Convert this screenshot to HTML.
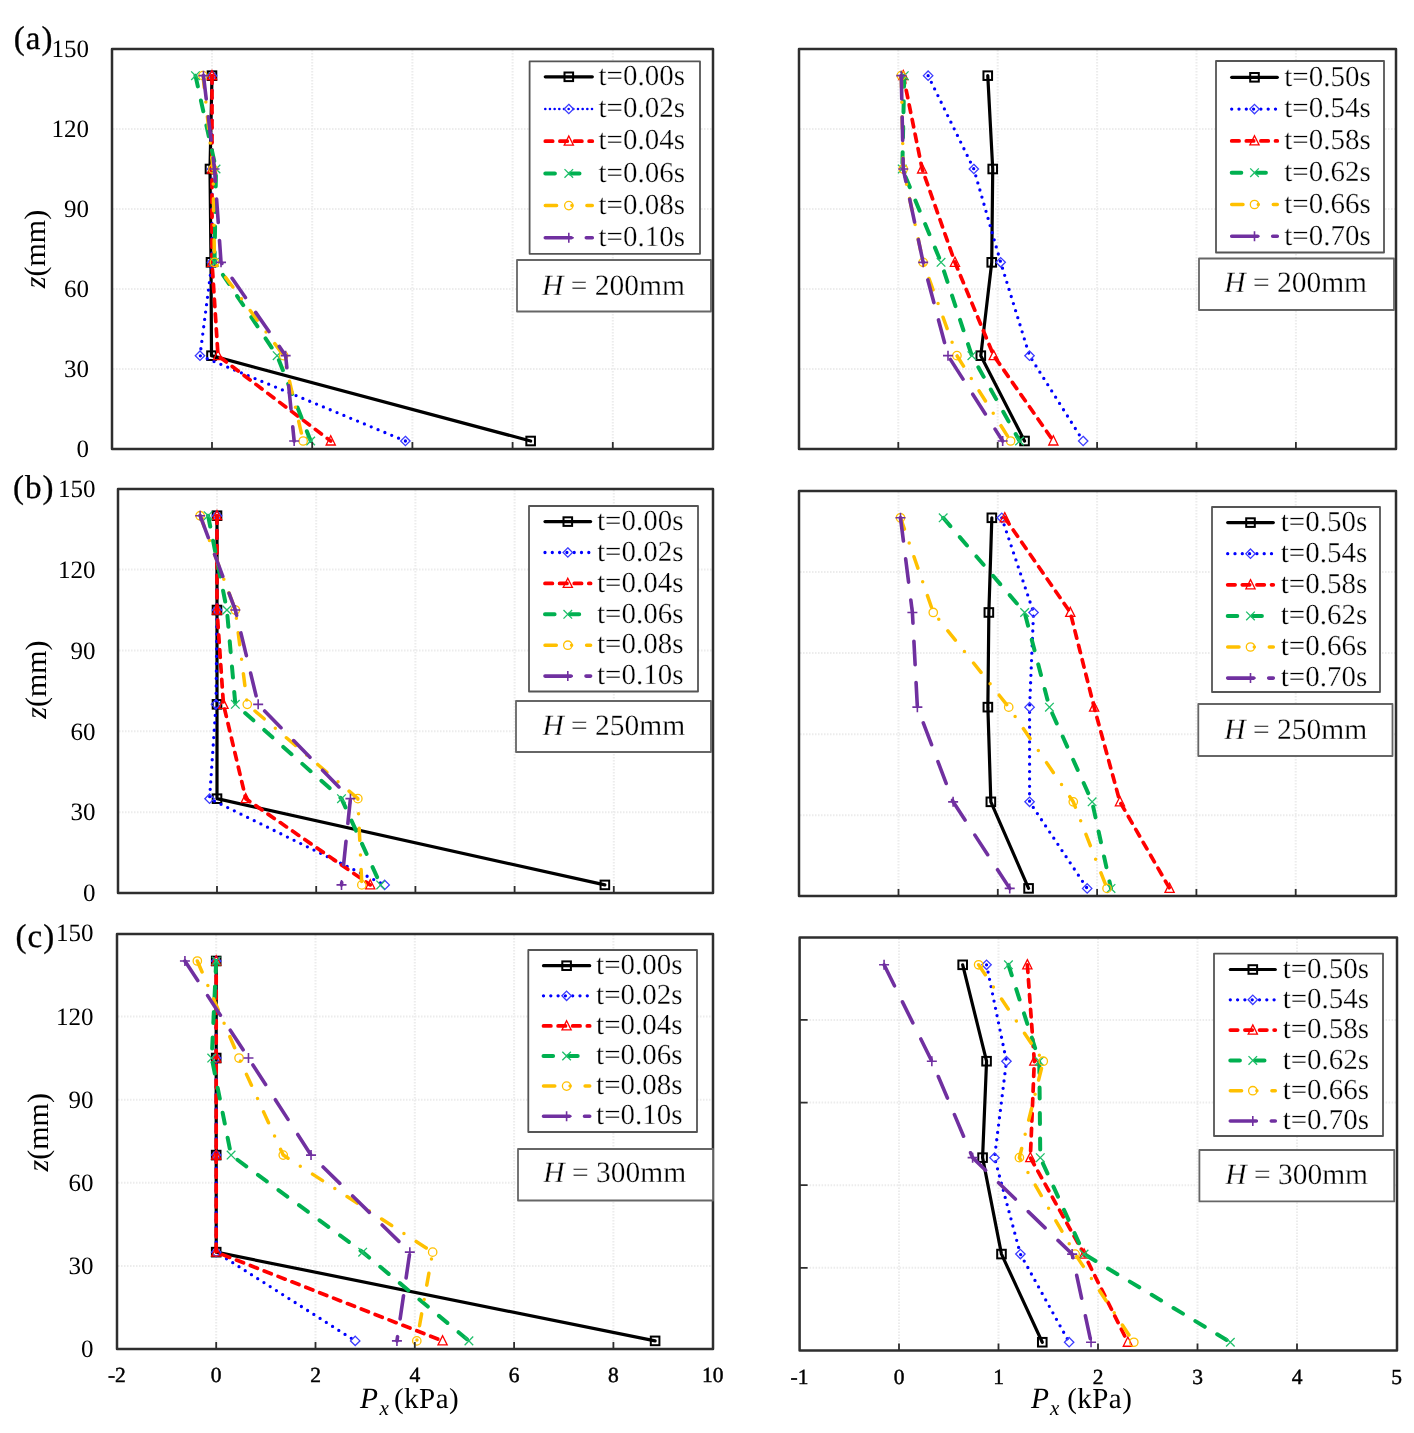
<!DOCTYPE html>
<html><head><meta charset="utf-8"><style>
html,body{margin:0;padding:0;background:#fff;}
svg{display:block;}
#wrap{will-change:transform;width:1414px;height:1433px;}
text{font-family:"Liberation Serif",serif;fill:#000;text-rendering:geometricPrecision;stroke:#fff;stroke-width:0.3px;paint-order:fill stroke;}
.yt{font-size:25px;text-anchor:end;stroke:none;}
.xt{font-size:21.5px;text-anchor:middle;stroke:#000;stroke-width:0.45px;}
.lg{font-size:29px;}
.hb{font-size:29.5px;}
.zl{font-size:30px;stroke:none;}
.ax{font-size:29px;stroke:none;}
.tag{font-size:33px;font-weight:normal;letter-spacing:1px;stroke:#000;stroke-width:0.3px;}
</style></head><body>
<div id="wrap"><svg width="1414" height="1433" viewBox="0 0 1414 1433">
<rect width="1414" height="1433" fill="#fff"/>
<path d="M212 50V448M312.2 50V448M412.4 50V448M512.6 50V448M612.8 50V448M113 369H712M113 289H712M113 209H712M113 129H712" stroke="#ececec" stroke-width="2" fill="none" stroke-dasharray="1.5 1.5"/>
<path d="M212 75.66 L210 169 L211 262.33 L211.5 355.67 L530.64 441" fill="none" stroke="#000000" stroke-width="3.2" stroke-linecap="round" stroke-linejoin="round"/>
<rect x="207.7" y="71.36" width="8.6" height="8.6" fill="none" stroke="#000" stroke-width="2"/>
<rect x="205.7" y="164.7" width="8.6" height="8.6" fill="none" stroke="#000" stroke-width="2"/>
<rect x="206.7" y="258.03" width="8.6" height="8.6" fill="none" stroke="#000" stroke-width="2"/>
<rect x="207.2" y="351.37" width="8.6" height="8.6" fill="none" stroke="#000" stroke-width="2"/>
<rect x="526.34" y="436.7" width="8.6" height="8.6" fill="none" stroke="#000" stroke-width="2"/>
<path d="M212 75.66 L212 169 L212 262.33 L199.98 355.67 L405.39 441" fill="none" stroke="#0000FF" stroke-width="3.3" stroke-linecap="round" stroke-linejoin="round" stroke-dasharray="0 7.4"/>
<polygon points="212,70.96 216.7,75.66 212,80.36 207.3,75.66" fill="none" stroke="#3b3bff" stroke-width="1.3"/>
<polygon points="212,164.3 216.7,169 212,173.7 207.3,169" fill="none" stroke="#3b3bff" stroke-width="1.3"/>
<polygon points="212,257.63 216.7,262.33 212,267.03 207.3,262.33" fill="none" stroke="#3b3bff" stroke-width="1.3"/>
<polygon points="199.98,350.97 204.68,355.67 199.98,360.37 195.28,355.67" fill="none" stroke="#3b3bff" stroke-width="1.3"/>
<polygon points="405.39,436.3 410.09,441 405.39,445.7 400.69,441" fill="none" stroke="#3b3bff" stroke-width="1.3"/>
<path d="M212 75.66 L212 169 L212 262.33 L218.01 355.67 L330.74 441" fill="none" stroke="#FF0000" stroke-width="3.7" stroke-linecap="round" stroke-linejoin="round" stroke-dasharray="7.6 7.3"/>
<polygon points="212,70.46 216.6,79.66 207.4,79.66" fill="none" stroke="#FF0000" stroke-width="1.3"/>
<polygon points="212,163.8 216.6,173 207.4,173" fill="none" stroke="#FF0000" stroke-width="1.3"/>
<polygon points="212,257.13 216.6,266.33 207.4,266.33" fill="none" stroke="#FF0000" stroke-width="1.3"/>
<polygon points="218.01,350.47 222.61,359.67 213.41,359.67" fill="none" stroke="#FF0000" stroke-width="1.3"/>
<polygon points="330.74,435.8 335.34,445 326.14,445" fill="none" stroke="#FF0000" stroke-width="1.3"/>
<path d="M195.47 75.66 L216.01 169 L214.5 262.33 L277.13 355.67 L310.7 441" fill="none" stroke="#00B050" stroke-width="4.0" stroke-linecap="round" stroke-linejoin="round" stroke-dasharray="11 14.5"/>
<path d="M191.17 71.36L199.77 79.96M191.17 79.96L199.77 71.36" stroke="#1fbf6a" stroke-width="1.3" fill="none"/>
<path d="M211.71 164.7L220.31 173.3M211.71 173.3L220.31 164.7" stroke="#1fbf6a" stroke-width="1.3" fill="none"/>
<path d="M210.2 258.03L218.81 266.63M210.2 266.63L218.81 258.03" stroke="#1fbf6a" stroke-width="1.3" fill="none"/>
<path d="M272.83 351.37L281.43 359.97M272.83 359.97L281.43 351.37" stroke="#1fbf6a" stroke-width="1.3" fill="none"/>
<path d="M306.4 436.7L315 445.3M306.4 445.3L315 436.7" stroke="#1fbf6a" stroke-width="1.3" fill="none"/>
<path d="M202.98 75.66 L213 169 L214.5 262.33 L283.64 355.67 L303.18 441" fill="none" stroke="#FFC000" stroke-width="3.5" stroke-linecap="round" stroke-linejoin="round" stroke-dasharray="12 14.6 0 14.6"/>
<circle cx="202.98" cy="75.66" r="4.2" fill="none" stroke="#FFC000" stroke-width="1.3"/>
<circle cx="213" cy="169" r="4.2" fill="none" stroke="#FFC000" stroke-width="1.3"/>
<circle cx="214.5" cy="262.33" r="4.2" fill="none" stroke="#FFC000" stroke-width="1.3"/>
<circle cx="283.64" cy="355.67" r="4.2" fill="none" stroke="#FFC000" stroke-width="1.3"/>
<circle cx="303.18" cy="441" r="4.2" fill="none" stroke="#FFC000" stroke-width="1.3"/>
<path d="M203.48 75.66 L214.5 169 L221.02 262.33 L285.65 355.67 L294.16 441" fill="none" stroke="#7030A0" stroke-width="3.6" stroke-linecap="round" stroke-linejoin="round" stroke-dasharray="23.4 18"/>
<path d="M198.48 75.66H208.48M203.48 70.66V80.66" stroke="#7030A0" stroke-width="1.6" fill="none"/>
<path d="M209.5 169H219.5M214.5 164V174" stroke="#7030A0" stroke-width="1.6" fill="none"/>
<path d="M216.02 262.33H226.02M221.02 257.33V267.33" stroke="#7030A0" stroke-width="1.6" fill="none"/>
<path d="M280.65 355.67H290.65M285.65 350.67V360.67" stroke="#7030A0" stroke-width="1.6" fill="none"/>
<path d="M289.16 441H299.16M294.16 436V446" stroke="#7030A0" stroke-width="1.6" fill="none"/>
<path d="M212 449V442M312.2 449V442M412.4 449V442M512.6 449V442M612.8 449V442" stroke="#2e2e2e" stroke-width="1.8" fill="none"/>
<rect x="112" y="49" width="601" height="400" fill="none" stroke="#2e2e2e" stroke-width="2.5" stroke-linejoin="round"/>
<rect x="529.6" y="61.4" width="170.4" height="192.4" fill="#fff" stroke="#555" stroke-width="1.8" stroke-linejoin="round"/>
<path d="M545.3 76.8H592.3" fill="none" stroke="#000000" stroke-width="3.2" stroke-linecap="round" stroke-linejoin="round"/>
<rect x="564.5" y="72.5" width="8.6" height="8.6" fill="none" stroke="#000" stroke-width="2"/>
<text x="598.5" y="85" class="lg">t=0.00s</text>
<path d="M545.3 109H592.3" fill="none" stroke="#0000FF" stroke-width="2.6" stroke-linecap="round" stroke-linejoin="round" stroke-dasharray="0 4.67"/>
<polygon points="568.8,104.3 573.5,109 568.8,113.7 564.1,109" fill="none" stroke="#3b3bff" stroke-width="1.3"/>
<text x="598.5" y="117.2" class="lg">t=0.02s</text>
<path d="M545.3 141.2H592.3" fill="none" stroke="#FF0000" stroke-width="3.7" stroke-linecap="round" stroke-linejoin="round" stroke-dasharray="7.4 7.2"/>
<polygon points="568.8,136 573.4,145.2 564.2,145.2" fill="none" stroke="#FF0000" stroke-width="1.3"/>
<text x="598.5" y="149.4" class="lg">t=0.04s</text>
<path d="M545.3 173.4H592.3" fill="none" stroke="#00B050" stroke-width="4.0" stroke-linecap="round" stroke-linejoin="round" stroke-dasharray="9.6 15"/>
<path d="M564.5 169.1L573.1 177.7M564.5 177.7L573.1 169.1" stroke="#1fbf6a" stroke-width="1.3" fill="none"/>
<text x="598.5" y="181.6" class="lg">t=0.06s</text>
<path d="M545.3 205.6H592.3" fill="none" stroke="#FFC000" stroke-width="3.5" stroke-linecap="round" stroke-linejoin="round" stroke-dasharray="11.3 15.3 0 15"/>
<circle cx="568.8" cy="205.6" r="4.2" fill="none" stroke="#FFC000" stroke-width="1.3"/>
<text x="598.5" y="213.8" class="lg">t=0.08s</text>
<path d="M545.3 237.8H592.3" fill="none" stroke="#7030A0" stroke-width="3.6" stroke-linecap="round" stroke-linejoin="round" stroke-dasharray="26 15"/>
<path d="M563.8 237.8H573.8M568.8 232.8V242.8" stroke="#7030A0" stroke-width="1.6" fill="none"/>
<text x="598.5" y="246" class="lg">t=0.10s</text>
<rect x="517" y="260" width="194" height="51.5" fill="#fff" stroke="#666" stroke-width="1.8" stroke-linejoin="round"/>
<text x="542" y="294.8" class="hb"><tspan font-style="italic">H</tspan> = 200mm</text>
<path d="M898.3 50V448M997.7 50V448M1097.1 50V448M1196.5 50V448M1295.9 50V448M800 369H1395M800 289H1395M800 209H1395M800 129H1395" stroke="#ececec" stroke-width="2" fill="none" stroke-dasharray="1.5 1.5"/>
<path d="M987.76 75.66 L992.73 169 L991.74 262.33 L980.8 355.67 L1024.54 441" fill="none" stroke="#000000" stroke-width="3.2" stroke-linecap="round" stroke-linejoin="round"/>
<rect x="983.46" y="71.36" width="8.6" height="8.6" fill="none" stroke="#000" stroke-width="2"/>
<rect x="988.43" y="164.7" width="8.6" height="8.6" fill="none" stroke="#000" stroke-width="2"/>
<rect x="987.44" y="258.03" width="8.6" height="8.6" fill="none" stroke="#000" stroke-width="2"/>
<rect x="976.5" y="351.37" width="8.6" height="8.6" fill="none" stroke="#000" stroke-width="2"/>
<rect x="1020.24" y="436.7" width="8.6" height="8.6" fill="none" stroke="#000" stroke-width="2"/>
<path d="M928.12 75.66 L973.84 169 L1000.68 262.33 L1029.51 355.67 L1083.18 441" fill="none" stroke="#0000FF" stroke-width="3.3" stroke-linecap="round" stroke-linejoin="round" stroke-dasharray="0 7.4"/>
<polygon points="928.12,70.96 932.82,75.66 928.12,80.36 923.42,75.66" fill="none" stroke="#3b3bff" stroke-width="1.3"/>
<polygon points="973.84,164.3 978.54,169 973.84,173.7 969.14,169" fill="none" stroke="#3b3bff" stroke-width="1.3"/>
<polygon points="1000.68,257.63 1005.38,262.33 1000.68,267.03 995.98,262.33" fill="none" stroke="#3b3bff" stroke-width="1.3"/>
<polygon points="1029.51,350.97 1034.21,355.67 1029.51,360.37 1024.81,355.67" fill="none" stroke="#3b3bff" stroke-width="1.3"/>
<polygon points="1083.18,436.3 1087.88,441 1083.18,445.7 1078.48,441" fill="none" stroke="#3b3bff" stroke-width="1.3"/>
<path d="M903.27 75.66 L922.16 169 L954.96 262.33 L993.72 355.67 L1053.36 441" fill="none" stroke="#FF0000" stroke-width="3.7" stroke-linecap="round" stroke-linejoin="round" stroke-dasharray="7.6 7.3"/>
<polygon points="903.27,70.46 907.87,79.66 898.67,79.66" fill="none" stroke="#FF0000" stroke-width="1.3"/>
<polygon points="922.16,163.8 926.76,173 917.56,173" fill="none" stroke="#FF0000" stroke-width="1.3"/>
<polygon points="954.96,257.13 959.56,266.33 950.36,266.33" fill="none" stroke="#FF0000" stroke-width="1.3"/>
<polygon points="993.72,350.47 998.32,359.67 989.12,359.67" fill="none" stroke="#FF0000" stroke-width="1.3"/>
<polygon points="1053.36,435.8 1057.96,445 1048.76,445" fill="none" stroke="#FF0000" stroke-width="1.3"/>
<path d="M904.26 75.66 L902.28 169 L941.04 262.33 L971.86 355.67 L1019.57 441" fill="none" stroke="#00B050" stroke-width="4.0" stroke-linecap="round" stroke-linejoin="round" stroke-dasharray="11 14.5"/>
<path d="M899.96 71.36L908.56 79.96M899.96 79.96L908.56 71.36" stroke="#1fbf6a" stroke-width="1.3" fill="none"/>
<path d="M897.98 164.7L906.58 173.3M897.98 173.3L906.58 164.7" stroke="#1fbf6a" stroke-width="1.3" fill="none"/>
<path d="M936.74 258.03L945.34 266.63M936.74 266.63L945.34 258.03" stroke="#1fbf6a" stroke-width="1.3" fill="none"/>
<path d="M967.56 351.37L976.16 359.97M967.56 359.97L976.16 351.37" stroke="#1fbf6a" stroke-width="1.3" fill="none"/>
<path d="M1015.27 436.7L1023.87 445.3M1015.27 445.3L1023.87 436.7" stroke="#1fbf6a" stroke-width="1.3" fill="none"/>
<path d="M901.28 75.66 L903.27 169 L923.15 262.33 L956.95 355.67 L1010.62 441" fill="none" stroke="#FFC000" stroke-width="3.5" stroke-linecap="round" stroke-linejoin="round" stroke-dasharray="12 14.6 0 14.6"/>
<circle cx="901.28" cy="75.66" r="4.2" fill="none" stroke="#FFC000" stroke-width="1.3"/>
<circle cx="903.27" cy="169" r="4.2" fill="none" stroke="#FFC000" stroke-width="1.3"/>
<circle cx="923.15" cy="262.33" r="4.2" fill="none" stroke="#FFC000" stroke-width="1.3"/>
<circle cx="956.95" cy="355.67" r="4.2" fill="none" stroke="#FFC000" stroke-width="1.3"/>
<circle cx="1010.62" cy="441" r="4.2" fill="none" stroke="#FFC000" stroke-width="1.3"/>
<path d="M901.28 75.66 L903.27 169 L923.15 262.33 L948 355.67 L1002.67 441" fill="none" stroke="#7030A0" stroke-width="3.6" stroke-linecap="round" stroke-linejoin="round" stroke-dasharray="23.4 18"/>
<path d="M896.28 75.66H906.28M901.28 70.66V80.66" stroke="#7030A0" stroke-width="1.6" fill="none"/>
<path d="M898.27 169H908.27M903.27 164V174" stroke="#7030A0" stroke-width="1.6" fill="none"/>
<path d="M918.15 262.33H928.15M923.15 257.33V267.33" stroke="#7030A0" stroke-width="1.6" fill="none"/>
<path d="M943 355.67H953M948 350.67V360.67" stroke="#7030A0" stroke-width="1.6" fill="none"/>
<path d="M997.67 441H1007.67M1002.67 436V446" stroke="#7030A0" stroke-width="1.6" fill="none"/>
<path d="M898.3 449V442M997.7 449V442M1097.1 449V442M1196.5 449V442M1295.9 449V442" stroke="#2e2e2e" stroke-width="1.8" fill="none"/>
<rect x="799" y="49" width="597" height="400" fill="none" stroke="#2e2e2e" stroke-width="2.5" stroke-linejoin="round"/>
<rect x="1216" y="61" width="168" height="191.5" fill="#fff" stroke="#555" stroke-width="1.8" stroke-linejoin="round"/>
<path d="M1231.7 77.3H1277.3" fill="none" stroke="#000000" stroke-width="3.2" stroke-linecap="round" stroke-linejoin="round"/>
<rect x="1250.2" y="73" width="8.6" height="8.6" fill="none" stroke="#000" stroke-width="2"/>
<text x="1284.3" y="85.5" class="lg">t=0.50s</text>
<path d="M1231.7 109.1H1277.3" fill="none" stroke="#0000FF" stroke-width="3.3" stroke-linecap="round" stroke-linejoin="round" stroke-dasharray="0 7.3"/>
<polygon points="1254.5,104.4 1259.2,109.1 1254.5,113.8 1249.8,109.1" fill="none" stroke="#3b3bff" stroke-width="1.3"/>
<text x="1284.3" y="117.3" class="lg">t=0.54s</text>
<path d="M1231.7 140.9H1277.3" fill="none" stroke="#FF0000" stroke-width="3.7" stroke-linecap="round" stroke-linejoin="round" stroke-dasharray="7.4 7.2"/>
<polygon points="1254.5,135.7 1259.1,144.9 1249.9,144.9" fill="none" stroke="#FF0000" stroke-width="1.3"/>
<text x="1284.3" y="149.1" class="lg">t=0.58s</text>
<path d="M1231.7 172.7H1277.3" fill="none" stroke="#00B050" stroke-width="4.0" stroke-linecap="round" stroke-linejoin="round" stroke-dasharray="9.6 15"/>
<path d="M1250.2 168.4L1258.8 177M1250.2 177L1258.8 168.4" stroke="#1fbf6a" stroke-width="1.3" fill="none"/>
<text x="1284.3" y="180.9" class="lg">t=0.62s</text>
<path d="M1231.7 204.5H1277.3" fill="none" stroke="#FFC000" stroke-width="3.5" stroke-linecap="round" stroke-linejoin="round" stroke-dasharray="11.3 15.3 0 15"/>
<circle cx="1254.5" cy="204.5" r="4.2" fill="none" stroke="#FFC000" stroke-width="1.3"/>
<text x="1284.3" y="212.7" class="lg">t=0.66s</text>
<path d="M1231.7 236.3H1277.3" fill="none" stroke="#7030A0" stroke-width="3.6" stroke-linecap="round" stroke-linejoin="round" stroke-dasharray="26 15"/>
<path d="M1249.5 236.3H1259.5M1254.5 231.3V241.3" stroke="#7030A0" stroke-width="1.6" fill="none"/>
<text x="1284.3" y="244.5" class="lg">t=0.70s</text>
<rect x="1199" y="258.5" width="195" height="51.5" fill="#fff" stroke="#666" stroke-width="1.8" stroke-linejoin="round"/>
<text x="1224.2" y="291.6" class="hb"><tspan font-style="italic">H</tspan> = 200mm</text>
<path d="M217 490V892M316.2 490V892M415.4 490V892M514.6 490V892M613.8 490V892M119 812.15H712M119 731.3H712M119 650.45H712M119 569.6H712" stroke="#ececec" stroke-width="2" fill="none" stroke-dasharray="1.5 1.5"/>
<path d="M217 515.7 L217 610.03 L217 704.35 L217 798.67 L604.87 884.91" fill="none" stroke="#000000" stroke-width="3.2" stroke-linecap="round" stroke-linejoin="round"/>
<rect x="212.7" y="511.4" width="8.6" height="8.6" fill="none" stroke="#000" stroke-width="2"/>
<rect x="212.7" y="605.73" width="8.6" height="8.6" fill="none" stroke="#000" stroke-width="2"/>
<rect x="212.7" y="700.05" width="8.6" height="8.6" fill="none" stroke="#000" stroke-width="2"/>
<rect x="212.7" y="794.38" width="8.6" height="8.6" fill="none" stroke="#000" stroke-width="2"/>
<rect x="600.57" y="880.62" width="8.6" height="8.6" fill="none" stroke="#000" stroke-width="2"/>
<path d="M217 515.7 L217 610.03 L216.01 704.35 L209.56 798.67 L384.65 884.91" fill="none" stroke="#0000FF" stroke-width="3.3" stroke-linecap="round" stroke-linejoin="round" stroke-dasharray="0 7.4"/>
<polygon points="217,511 221.7,515.7 217,520.4 212.3,515.7" fill="none" stroke="#3b3bff" stroke-width="1.3"/>
<polygon points="217,605.33 221.7,610.03 217,614.73 212.3,610.03" fill="none" stroke="#3b3bff" stroke-width="1.3"/>
<polygon points="216.01,699.65 220.71,704.35 216.01,709.05 211.31,704.35" fill="none" stroke="#3b3bff" stroke-width="1.3"/>
<polygon points="209.56,793.97 214.26,798.67 209.56,803.38 204.86,798.67" fill="none" stroke="#3b3bff" stroke-width="1.3"/>
<polygon points="384.65,880.21 389.35,884.91 384.65,889.62 379.95,884.91" fill="none" stroke="#3b3bff" stroke-width="1.3"/>
<path d="M217 515.7 L217 610.03 L223.45 704.35 L245.77 798.67 L370.26 884.91" fill="none" stroke="#FF0000" stroke-width="3.7" stroke-linecap="round" stroke-linejoin="round" stroke-dasharray="7.6 7.3"/>
<polygon points="217,510.5 221.6,519.7 212.4,519.7" fill="none" stroke="#FF0000" stroke-width="1.3"/>
<polygon points="217,604.83 221.6,614.03 212.4,614.03" fill="none" stroke="#FF0000" stroke-width="1.3"/>
<polygon points="223.45,699.15 228.05,708.35 218.85,708.35" fill="none" stroke="#FF0000" stroke-width="1.3"/>
<polygon points="245.77,793.47 250.37,802.67 241.17,802.67" fill="none" stroke="#FF0000" stroke-width="1.3"/>
<polygon points="370.26,879.71 374.86,888.91 365.66,888.91" fill="none" stroke="#FF0000" stroke-width="1.3"/>
<path d="M208.07 515.7 L226.92 610.03 L235.35 704.35 L341.5 798.67 L380.68 884.91" fill="none" stroke="#00B050" stroke-width="4.0" stroke-linecap="round" stroke-linejoin="round" stroke-dasharray="11 14.5"/>
<path d="M203.77 511.4L212.37 520M203.77 520L212.37 511.4" stroke="#1fbf6a" stroke-width="1.3" fill="none"/>
<path d="M222.62 605.73L231.22 614.33M222.62 614.33L231.22 605.73" stroke="#1fbf6a" stroke-width="1.3" fill="none"/>
<path d="M231.05 700.05L239.65 708.65M231.05 708.65L239.65 700.05" stroke="#1fbf6a" stroke-width="1.3" fill="none"/>
<path d="M337.2 794.38L345.8 802.97M337.2 802.97L345.8 794.38" stroke="#1fbf6a" stroke-width="1.3" fill="none"/>
<path d="M376.38 880.62L384.98 889.21M376.38 889.21L384.98 880.62" stroke="#1fbf6a" stroke-width="1.3" fill="none"/>
<path d="M200.14 515.7 L235.35 610.03 L247.26 704.35 L357.86 798.67 L361.83 884.91" fill="none" stroke="#FFC000" stroke-width="3.5" stroke-linecap="round" stroke-linejoin="round" stroke-dasharray="12 14.6 0 14.6"/>
<circle cx="200.14" cy="515.7" r="4.2" fill="none" stroke="#FFC000" stroke-width="1.3"/>
<circle cx="235.35" cy="610.03" r="4.2" fill="none" stroke="#FFC000" stroke-width="1.3"/>
<circle cx="247.26" cy="704.35" r="4.2" fill="none" stroke="#FFC000" stroke-width="1.3"/>
<circle cx="357.86" cy="798.67" r="4.2" fill="none" stroke="#FFC000" stroke-width="1.3"/>
<circle cx="361.83" cy="884.91" r="4.2" fill="none" stroke="#FFC000" stroke-width="1.3"/>
<path d="M200.14 515.7 L235.35 610.03 L258.17 704.35 L350.42 798.67 L341.5 884.91" fill="none" stroke="#7030A0" stroke-width="3.6" stroke-linecap="round" stroke-linejoin="round" stroke-dasharray="23.4 18"/>
<path d="M195.14 515.7H205.14M200.14 510.7V520.7" stroke="#7030A0" stroke-width="1.6" fill="none"/>
<path d="M230.35 610.03H240.35M235.35 605.03V615.03" stroke="#7030A0" stroke-width="1.6" fill="none"/>
<path d="M253.17 704.35H263.17M258.17 699.35V709.35" stroke="#7030A0" stroke-width="1.6" fill="none"/>
<path d="M345.42 798.67H355.42M350.42 793.67V803.67" stroke="#7030A0" stroke-width="1.6" fill="none"/>
<path d="M336.5 884.91H346.5M341.5 879.91V889.91" stroke="#7030A0" stroke-width="1.6" fill="none"/>
<path d="M217 893V886M316.2 893V886M415.4 893V886M514.6 893V886M613.8 893V886" stroke="#2e2e2e" stroke-width="1.8" fill="none"/>
<rect x="118" y="489" width="595" height="404" fill="none" stroke="#2e2e2e" stroke-width="2.5" stroke-linejoin="round"/>
<rect x="529" y="506" width="169" height="185.5" fill="#fff" stroke="#555" stroke-width="1.8" stroke-linejoin="round"/>
<path d="M545 521.6H590.6" fill="none" stroke="#000000" stroke-width="3.2" stroke-linecap="round" stroke-linejoin="round"/>
<rect x="563.5" y="517.3" width="8.6" height="8.6" fill="none" stroke="#000" stroke-width="2"/>
<text x="597" y="529.8" class="lg">t=0.00s</text>
<path d="M545 552.5H590.6" fill="none" stroke="#0000FF" stroke-width="3.3" stroke-linecap="round" stroke-linejoin="round" stroke-dasharray="0 7.3"/>
<polygon points="567.8,547.8 572.5,552.5 567.8,557.2 563.1,552.5" fill="none" stroke="#3b3bff" stroke-width="1.3"/>
<text x="597" y="560.7" class="lg">t=0.02s</text>
<path d="M545 583.4H590.6" fill="none" stroke="#FF0000" stroke-width="3.7" stroke-linecap="round" stroke-linejoin="round" stroke-dasharray="7.4 7.2"/>
<polygon points="567.8,578.2 572.4,587.4 563.2,587.4" fill="none" stroke="#FF0000" stroke-width="1.3"/>
<text x="597" y="591.6" class="lg">t=0.04s</text>
<path d="M545 614.3H590.6" fill="none" stroke="#00B050" stroke-width="4.0" stroke-linecap="round" stroke-linejoin="round" stroke-dasharray="9.6 15"/>
<path d="M563.5 610L572.1 618.6M563.5 618.6L572.1 610" stroke="#1fbf6a" stroke-width="1.3" fill="none"/>
<text x="597" y="622.5" class="lg">t=0.06s</text>
<path d="M545 645.2H590.6" fill="none" stroke="#FFC000" stroke-width="3.5" stroke-linecap="round" stroke-linejoin="round" stroke-dasharray="11.3 15.3 0 15"/>
<circle cx="567.8" cy="645.2" r="4.2" fill="none" stroke="#FFC000" stroke-width="1.3"/>
<text x="597" y="653.4" class="lg">t=0.08s</text>
<path d="M545 676.1H590.6" fill="none" stroke="#7030A0" stroke-width="3.6" stroke-linecap="round" stroke-linejoin="round" stroke-dasharray="26 15"/>
<path d="M562.8 676.1H572.8M567.8 671.1V681.1" stroke="#7030A0" stroke-width="1.6" fill="none"/>
<text x="597" y="684.3" class="lg">t=0.10s</text>
<rect x="516" y="701" width="195" height="51" fill="#fff" stroke="#666" stroke-width="1.8" stroke-linejoin="round"/>
<text x="542.4" y="735.2" class="hb"><tspan font-style="italic">H</tspan> = 250mm</text>
<path d="M898.5 492V895M997.8 492V895M1097.1 492V895M1196.4 492V895M1295.7 492V895M800 815.35H1395M800 734.2H1395M800 653.05H1395M800 571.9H1395" stroke="#ececec" stroke-width="2" fill="none" stroke-dasharray="1.5 1.5"/>
<path d="M991.84 517.8 L988.86 612.47 L987.87 707.15 L990.85 801.83 L1028.58 888.38" fill="none" stroke="#000000" stroke-width="3.2" stroke-linecap="round" stroke-linejoin="round"/>
<rect x="987.54" y="513.5" width="8.6" height="8.6" fill="none" stroke="#000" stroke-width="2"/>
<rect x="984.56" y="608.17" width="8.6" height="8.6" fill="none" stroke="#000" stroke-width="2"/>
<rect x="983.57" y="702.85" width="8.6" height="8.6" fill="none" stroke="#000" stroke-width="2"/>
<rect x="986.55" y="797.53" width="8.6" height="8.6" fill="none" stroke="#000" stroke-width="2"/>
<rect x="1024.28" y="884.09" width="8.6" height="8.6" fill="none" stroke="#000" stroke-width="2"/>
<path d="M1001.77 517.8 L1033.55 612.47 L1029.58 707.15 L1029.58 801.83 L1087.17 888.38" fill="none" stroke="#0000FF" stroke-width="3.3" stroke-linecap="round" stroke-linejoin="round" stroke-dasharray="0 7.4"/>
<polygon points="1001.77,513.1 1006.47,517.8 1001.77,522.5 997.07,517.8" fill="none" stroke="#3b3bff" stroke-width="1.3"/>
<polygon points="1033.55,607.77 1038.25,612.47 1033.55,617.17 1028.85,612.47" fill="none" stroke="#3b3bff" stroke-width="1.3"/>
<polygon points="1029.58,702.45 1034.28,707.15 1029.58,711.85 1024.88,707.15" fill="none" stroke="#3b3bff" stroke-width="1.3"/>
<polygon points="1029.58,797.12 1034.28,801.83 1029.58,806.53 1024.88,801.83" fill="none" stroke="#3b3bff" stroke-width="1.3"/>
<polygon points="1087.17,883.68 1091.87,888.38 1087.17,893.09 1082.47,888.38" fill="none" stroke="#3b3bff" stroke-width="1.3"/>
<path d="M1004.75 517.8 L1070.29 612.47 L1094.12 707.15 L1119.94 801.83 L1169.59 888.38" fill="none" stroke="#FF0000" stroke-width="3.7" stroke-linecap="round" stroke-linejoin="round" stroke-dasharray="7.6 7.3"/>
<polygon points="1004.75,512.6 1009.35,521.8 1000.15,521.8" fill="none" stroke="#FF0000" stroke-width="1.3"/>
<polygon points="1070.29,607.27 1074.89,616.47 1065.69,616.47" fill="none" stroke="#FF0000" stroke-width="1.3"/>
<polygon points="1094.12,701.95 1098.72,711.15 1089.52,711.15" fill="none" stroke="#FF0000" stroke-width="1.3"/>
<polygon points="1119.94,796.62 1124.54,805.83 1115.34,805.83" fill="none" stroke="#FF0000" stroke-width="1.3"/>
<polygon points="1169.59,883.18 1174.19,892.38 1164.99,892.38" fill="none" stroke="#FF0000" stroke-width="1.3"/>
<path d="M943.18 517.8 L1024.61 612.47 L1049.44 707.15 L1092.13 801.83 L1111 888.38" fill="none" stroke="#00B050" stroke-width="4.0" stroke-linecap="round" stroke-linejoin="round" stroke-dasharray="11 14.5"/>
<path d="M938.88 513.5L947.48 522.1M938.88 522.1L947.48 513.5" stroke="#1fbf6a" stroke-width="1.3" fill="none"/>
<path d="M1020.31 608.17L1028.91 616.77M1020.31 616.77L1028.91 608.17" stroke="#1fbf6a" stroke-width="1.3" fill="none"/>
<path d="M1045.14 702.85L1053.74 711.45M1045.14 711.45L1053.74 702.85" stroke="#1fbf6a" stroke-width="1.3" fill="none"/>
<path d="M1087.84 797.53L1096.43 806.12M1087.84 806.12L1096.43 797.53" stroke="#1fbf6a" stroke-width="1.3" fill="none"/>
<path d="M1106.7 884.09L1115.3 892.68M1106.7 892.68L1115.3 884.09" stroke="#1fbf6a" stroke-width="1.3" fill="none"/>
<path d="M900.49 517.8 L933.25 612.47 L1008.72 707.15 L1073.27 801.83 L1107.03 888.38" fill="none" stroke="#FFC000" stroke-width="3.5" stroke-linecap="round" stroke-linejoin="round" stroke-dasharray="12 14.6 0 14.6"/>
<circle cx="900.49" cy="517.8" r="4.2" fill="none" stroke="#FFC000" stroke-width="1.3"/>
<circle cx="933.25" cy="612.47" r="4.2" fill="none" stroke="#FFC000" stroke-width="1.3"/>
<circle cx="1008.72" cy="707.15" r="4.2" fill="none" stroke="#FFC000" stroke-width="1.3"/>
<circle cx="1073.27" cy="801.83" r="4.2" fill="none" stroke="#FFC000" stroke-width="1.3"/>
<circle cx="1107.03" cy="888.38" r="4.2" fill="none" stroke="#FFC000" stroke-width="1.3"/>
<path d="M900.49 517.8 L912.4 612.47 L917.37 707.15 L953.12 801.83 L1009.72 888.38" fill="none" stroke="#7030A0" stroke-width="3.6" stroke-linecap="round" stroke-linejoin="round" stroke-dasharray="23.4 18"/>
<path d="M895.49 517.8H905.49M900.49 512.8V522.8" stroke="#7030A0" stroke-width="1.6" fill="none"/>
<path d="M907.4 612.47H917.4M912.4 607.47V617.47" stroke="#7030A0" stroke-width="1.6" fill="none"/>
<path d="M912.37 707.15H922.37M917.37 702.15V712.15" stroke="#7030A0" stroke-width="1.6" fill="none"/>
<path d="M948.12 801.83H958.12M953.12 796.83V806.83" stroke="#7030A0" stroke-width="1.6" fill="none"/>
<path d="M1004.72 888.38H1014.72M1009.72 883.38V893.38" stroke="#7030A0" stroke-width="1.6" fill="none"/>
<path d="M898.5 896V889M997.8 896V889M1097.1 896V889M1196.4 896V889M1295.7 896V889" stroke="#2e2e2e" stroke-width="1.8" fill="none"/>
<rect x="799" y="491" width="597" height="405" fill="none" stroke="#2e2e2e" stroke-width="2.5" stroke-linejoin="round"/>
<rect x="1212" y="507" width="168" height="185" fill="#fff" stroke="#555" stroke-width="1.8" stroke-linejoin="round"/>
<path d="M1227.7 522.6H1273.3" fill="none" stroke="#000000" stroke-width="3.2" stroke-linecap="round" stroke-linejoin="round"/>
<rect x="1246.2" y="518.3" width="8.6" height="8.6" fill="none" stroke="#000" stroke-width="2"/>
<text x="1280.8" y="530.8" class="lg">t=0.50s</text>
<path d="M1227.7 553.7H1273.3" fill="none" stroke="#0000FF" stroke-width="3.3" stroke-linecap="round" stroke-linejoin="round" stroke-dasharray="0 7.3"/>
<polygon points="1250.5,549 1255.2,553.7 1250.5,558.4 1245.8,553.7" fill="none" stroke="#3b3bff" stroke-width="1.3"/>
<text x="1280.8" y="561.9" class="lg">t=0.54s</text>
<path d="M1227.7 584.8H1273.3" fill="none" stroke="#FF0000" stroke-width="3.7" stroke-linecap="round" stroke-linejoin="round" stroke-dasharray="7.4 7.2"/>
<polygon points="1250.5,579.6 1255.1,588.8 1245.9,588.8" fill="none" stroke="#FF0000" stroke-width="1.3"/>
<text x="1280.8" y="593" class="lg">t=0.58s</text>
<path d="M1227.7 615.9H1273.3" fill="none" stroke="#00B050" stroke-width="4.0" stroke-linecap="round" stroke-linejoin="round" stroke-dasharray="9.6 15"/>
<path d="M1246.2 611.6L1254.8 620.2M1246.2 620.2L1254.8 611.6" stroke="#1fbf6a" stroke-width="1.3" fill="none"/>
<text x="1280.8" y="624.1" class="lg">t=0.62s</text>
<path d="M1227.7 647H1273.3" fill="none" stroke="#FFC000" stroke-width="3.5" stroke-linecap="round" stroke-linejoin="round" stroke-dasharray="11.3 15.3 0 15"/>
<circle cx="1250.5" cy="647" r="4.2" fill="none" stroke="#FFC000" stroke-width="1.3"/>
<text x="1280.8" y="655.2" class="lg">t=0.66s</text>
<path d="M1227.7 678.1H1273.3" fill="none" stroke="#7030A0" stroke-width="3.6" stroke-linecap="round" stroke-linejoin="round" stroke-dasharray="26 15"/>
<path d="M1245.5 678.1H1255.5M1250.5 673.1V683.1" stroke="#7030A0" stroke-width="1.6" fill="none"/>
<text x="1280.8" y="686.3" class="lg">t=0.70s</text>
<rect x="1198.3" y="704" width="194.2" height="52" fill="#fff" stroke="#666" stroke-width="1.8" stroke-linejoin="round"/>
<text x="1224.3" y="738.9" class="hb"><tspan font-style="italic">H</tspan> = 250mm</text>
<path d="M216.2 935V1348M315.5 935V1348M414.8 935V1348M514.1 935V1348M613.4 935V1348M118 1266.01H712M118 1182.82H712M118 1099.63H712M118 1016.44H712" stroke="#ececec" stroke-width="2" fill="none" stroke-dasharray="1.5 1.5"/>
<path d="M216.2 960.98 L216.2 1058.04 L216.2 1155.09 L216.2 1252.14 L655.11 1340.88" fill="none" stroke="#000000" stroke-width="3.2" stroke-linecap="round" stroke-linejoin="round"/>
<rect x="211.9" y="956.68" width="8.6" height="8.6" fill="none" stroke="#000" stroke-width="2"/>
<rect x="211.9" y="1053.74" width="8.6" height="8.6" fill="none" stroke="#000" stroke-width="2"/>
<rect x="211.9" y="1150.79" width="8.6" height="8.6" fill="none" stroke="#000" stroke-width="2"/>
<rect x="211.9" y="1247.85" width="8.6" height="8.6" fill="none" stroke="#000" stroke-width="2"/>
<rect x="650.81" y="1336.58" width="8.6" height="8.6" fill="none" stroke="#000" stroke-width="2"/>
<path d="M216.2 960.98 L216.2 1058.04 L216.2 1155.09 L216.2 1252.14 L355.22 1340.88" fill="none" stroke="#0000FF" stroke-width="3.3" stroke-linecap="round" stroke-linejoin="round" stroke-dasharray="0 7.4"/>
<polygon points="216.2,956.28 220.9,960.98 216.2,965.68 211.5,960.98" fill="none" stroke="#3b3bff" stroke-width="1.3"/>
<polygon points="216.2,1053.34 220.9,1058.04 216.2,1062.74 211.5,1058.04" fill="none" stroke="#3b3bff" stroke-width="1.3"/>
<polygon points="216.2,1150.39 220.9,1155.09 216.2,1159.79 211.5,1155.09" fill="none" stroke="#3b3bff" stroke-width="1.3"/>
<polygon points="216.2,1247.44 220.9,1252.14 216.2,1256.85 211.5,1252.14" fill="none" stroke="#3b3bff" stroke-width="1.3"/>
<polygon points="355.22,1336.18 359.92,1340.88 355.22,1345.58 350.52,1340.88" fill="none" stroke="#3b3bff" stroke-width="1.3"/>
<path d="M216.2 960.98 L216.2 1058.04 L216.2 1155.09 L216.2 1252.14 L442.6 1340.88" fill="none" stroke="#FF0000" stroke-width="3.7" stroke-linecap="round" stroke-linejoin="round" stroke-dasharray="7.6 7.3"/>
<polygon points="216.2,955.78 220.8,964.98 211.6,964.98" fill="none" stroke="#FF0000" stroke-width="1.3"/>
<polygon points="216.2,1052.84 220.8,1062.04 211.6,1062.04" fill="none" stroke="#FF0000" stroke-width="1.3"/>
<polygon points="216.2,1149.89 220.8,1159.09 211.6,1159.09" fill="none" stroke="#FF0000" stroke-width="1.3"/>
<polygon points="216.2,1246.94 220.8,1256.14 211.6,1256.14" fill="none" stroke="#FF0000" stroke-width="1.3"/>
<polygon points="442.6,1335.68 447.2,1344.88 438,1344.88" fill="none" stroke="#FF0000" stroke-width="1.3"/>
<path d="M216.2 960.98 L211.73 1058.04 L231.09 1155.09 L362.67 1252.14 L468.92 1340.88" fill="none" stroke="#00B050" stroke-width="4.0" stroke-linecap="round" stroke-linejoin="round" stroke-dasharray="11 14.5"/>
<path d="M211.9 956.68L220.5 965.28M211.9 965.28L220.5 956.68" stroke="#1fbf6a" stroke-width="1.3" fill="none"/>
<path d="M207.43 1053.74L216.03 1062.34M207.43 1062.34L216.03 1053.74" stroke="#1fbf6a" stroke-width="1.3" fill="none"/>
<path d="M226.79 1150.79L235.4 1159.39M226.79 1159.39L235.4 1150.79" stroke="#1fbf6a" stroke-width="1.3" fill="none"/>
<path d="M358.37 1247.85L366.97 1256.44M358.37 1256.44L366.97 1247.85" stroke="#1fbf6a" stroke-width="1.3" fill="none"/>
<path d="M464.62 1336.58L473.22 1345.18M464.62 1345.18L473.22 1336.58" stroke="#1fbf6a" stroke-width="1.3" fill="none"/>
<path d="M197.33 960.98 L239.04 1058.04 L283.23 1155.09 L432.67 1252.14 L416.79 1340.88" fill="none" stroke="#FFC000" stroke-width="3.5" stroke-linecap="round" stroke-linejoin="round" stroke-dasharray="12 14.6 0 14.6"/>
<circle cx="197.33" cy="960.98" r="4.2" fill="none" stroke="#FFC000" stroke-width="1.3"/>
<circle cx="239.04" cy="1058.04" r="4.2" fill="none" stroke="#FFC000" stroke-width="1.3"/>
<circle cx="283.23" cy="1155.09" r="4.2" fill="none" stroke="#FFC000" stroke-width="1.3"/>
<circle cx="432.67" cy="1252.14" r="4.2" fill="none" stroke="#FFC000" stroke-width="1.3"/>
<circle cx="416.79" cy="1340.88" r="4.2" fill="none" stroke="#FFC000" stroke-width="1.3"/>
<path d="M184.92 960.98 L248.47 1058.04 L311.03 1155.09 L409.83 1252.14 L396.93 1340.88" fill="none" stroke="#7030A0" stroke-width="3.6" stroke-linecap="round" stroke-linejoin="round" stroke-dasharray="23.4 18"/>
<path d="M179.92 960.98H189.92M184.92 955.98V965.98" stroke="#7030A0" stroke-width="1.6" fill="none"/>
<path d="M243.47 1058.04H253.47M248.47 1053.04V1063.04" stroke="#7030A0" stroke-width="1.6" fill="none"/>
<path d="M306.03 1155.09H316.03M311.03 1150.09V1160.09" stroke="#7030A0" stroke-width="1.6" fill="none"/>
<path d="M404.83 1252.14H414.83M409.83 1247.14V1257.14" stroke="#7030A0" stroke-width="1.6" fill="none"/>
<path d="M391.93 1340.88H401.93M396.93 1335.88V1345.88" stroke="#7030A0" stroke-width="1.6" fill="none"/>
<path d="M216.2 1349V1342M315.5 1349V1342M414.8 1349V1342M514.1 1349V1342M613.4 1349V1342" stroke="#2e2e2e" stroke-width="1.8" fill="none"/>
<rect x="117" y="934" width="596" height="415" fill="none" stroke="#2e2e2e" stroke-width="2.5" stroke-linejoin="round"/>
<rect x="528.3" y="950" width="168.7" height="182" fill="#fff" stroke="#555" stroke-width="1.8" stroke-linejoin="round"/>
<path d="M543.5 965.7H589.7" fill="none" stroke="#000000" stroke-width="3.2" stroke-linecap="round" stroke-linejoin="round"/>
<rect x="562.3" y="961.4" width="8.6" height="8.6" fill="none" stroke="#000" stroke-width="2"/>
<text x="596.1" y="973.9" class="lg">t=0.00s</text>
<path d="M543.5 995.8H589.7" fill="none" stroke="#0000FF" stroke-width="3.3" stroke-linecap="round" stroke-linejoin="round" stroke-dasharray="0 7.3"/>
<polygon points="566.6,991.1 571.3,995.8 566.6,1000.5 561.9,995.8" fill="none" stroke="#3b3bff" stroke-width="1.3"/>
<text x="596.1" y="1004" class="lg">t=0.02s</text>
<path d="M543.5 1025.9H589.7" fill="none" stroke="#FF0000" stroke-width="3.7" stroke-linecap="round" stroke-linejoin="round" stroke-dasharray="7.4 7.2"/>
<polygon points="566.6,1020.7 571.2,1029.9 562,1029.9" fill="none" stroke="#FF0000" stroke-width="1.3"/>
<text x="596.1" y="1034.1" class="lg">t=0.04s</text>
<path d="M543.5 1056H589.7" fill="none" stroke="#00B050" stroke-width="4.0" stroke-linecap="round" stroke-linejoin="round" stroke-dasharray="9.6 15"/>
<path d="M562.3 1051.7L570.9 1060.3M562.3 1060.3L570.9 1051.7" stroke="#1fbf6a" stroke-width="1.3" fill="none"/>
<text x="596.1" y="1064.2" class="lg">t=0.06s</text>
<path d="M543.5 1086.1H589.7" fill="none" stroke="#FFC000" stroke-width="3.5" stroke-linecap="round" stroke-linejoin="round" stroke-dasharray="11.3 15.3 0 15"/>
<circle cx="566.6" cy="1086.1" r="4.2" fill="none" stroke="#FFC000" stroke-width="1.3"/>
<text x="596.1" y="1094.3" class="lg">t=0.08s</text>
<path d="M543.5 1116.2H589.7" fill="none" stroke="#7030A0" stroke-width="3.6" stroke-linecap="round" stroke-linejoin="round" stroke-dasharray="26 15"/>
<path d="M561.6 1116.2H571.6M566.6 1111.2V1121.2" stroke="#7030A0" stroke-width="1.6" fill="none"/>
<text x="596.1" y="1124.4" class="lg">t=0.10s</text>
<rect x="518" y="1149" width="195" height="51.5" fill="#fff" stroke="#666" stroke-width="1.8" stroke-linejoin="round"/>
<text x="543.3" y="1182" class="hb"><tspan font-style="italic">H</tspan> = 300mm</text>
<path d="M899 938.5V1349.4M998.5 938.5V1349.4M1098 938.5V1349.4M1197.5 938.5V1349.4M1297 938.5V1349.4M800.6 1267.85H1396M800.6 1185.2H1396M800.6 1102.55H1396M800.6 1019.9H1396" stroke="#ececec" stroke-width="2" fill="none" stroke-dasharray="1.5 1.5"/>
<path d="M962.68 964.8 L986.56 1061.22 L982.58 1157.65 L1001.49 1254.08 L1042.28 1342.23" fill="none" stroke="#000000" stroke-width="3.2" stroke-linecap="round" stroke-linejoin="round"/>
<rect x="958.38" y="960.5" width="8.6" height="8.6" fill="none" stroke="#000" stroke-width="2"/>
<rect x="982.26" y="1056.92" width="8.6" height="8.6" fill="none" stroke="#000" stroke-width="2"/>
<rect x="978.28" y="1153.35" width="8.6" height="8.6" fill="none" stroke="#000" stroke-width="2"/>
<rect x="997.19" y="1249.78" width="8.6" height="8.6" fill="none" stroke="#000" stroke-width="2"/>
<rect x="1037.98" y="1337.93" width="8.6" height="8.6" fill="none" stroke="#000" stroke-width="2"/>
<path d="M986.56 964.8 L1006.46 1061.22 L994.52 1157.65 L1020.39 1254.08 L1069.14 1342.23" fill="none" stroke="#0000FF" stroke-width="3.3" stroke-linecap="round" stroke-linejoin="round" stroke-dasharray="0 7.4"/>
<polygon points="986.56,960.1 991.26,964.8 986.56,969.5 981.86,964.8" fill="none" stroke="#3b3bff" stroke-width="1.3"/>
<polygon points="1006.46,1056.52 1011.16,1061.22 1006.46,1065.92 1001.76,1061.22" fill="none" stroke="#3b3bff" stroke-width="1.3"/>
<polygon points="994.52,1152.95 999.22,1157.65 994.52,1162.35 989.82,1157.65" fill="none" stroke="#3b3bff" stroke-width="1.3"/>
<polygon points="1020.39,1249.38 1025.09,1254.08 1020.39,1258.78 1015.69,1254.08" fill="none" stroke="#3b3bff" stroke-width="1.3"/>
<polygon points="1069.14,1337.53 1073.85,1342.23 1069.14,1346.93 1064.44,1342.23" fill="none" stroke="#3b3bff" stroke-width="1.3"/>
<path d="M1027.36 964.8 L1034.32 1061.22 L1030.34 1157.65 L1084.07 1254.08 L1127.85 1342.23" fill="none" stroke="#FF0000" stroke-width="3.7" stroke-linecap="round" stroke-linejoin="round" stroke-dasharray="7.6 7.3"/>
<polygon points="1027.36,959.6 1031.95,968.8 1022.75,968.8" fill="none" stroke="#FF0000" stroke-width="1.3"/>
<polygon points="1034.32,1056.02 1038.92,1065.22 1029.72,1065.22" fill="none" stroke="#FF0000" stroke-width="1.3"/>
<polygon points="1030.34,1152.45 1034.94,1161.65 1025.74,1161.65" fill="none" stroke="#FF0000" stroke-width="1.3"/>
<polygon points="1084.07,1248.88 1088.67,1258.08 1079.47,1258.08" fill="none" stroke="#FF0000" stroke-width="1.3"/>
<polygon points="1127.85,1337.03 1132.45,1346.23 1123.25,1346.23" fill="none" stroke="#FF0000" stroke-width="1.3"/>
<path d="M1008.45 964.8 L1039.3 1061.22 L1040.29 1157.65 L1084.07 1254.08 L1230.34 1342.23" fill="none" stroke="#00B050" stroke-width="4.0" stroke-linecap="round" stroke-linejoin="round" stroke-dasharray="11 14.5"/>
<path d="M1004.15 960.5L1012.75 969.1M1004.15 969.1L1012.75 960.5" stroke="#1fbf6a" stroke-width="1.3" fill="none"/>
<path d="M1035 1056.92L1043.6 1065.52M1035 1065.52L1043.6 1056.92" stroke="#1fbf6a" stroke-width="1.3" fill="none"/>
<path d="M1035.99 1153.35L1044.59 1161.95M1035.99 1161.95L1044.59 1153.35" stroke="#1fbf6a" stroke-width="1.3" fill="none"/>
<path d="M1079.77 1249.78L1088.37 1258.38M1079.77 1258.38L1088.37 1249.78" stroke="#1fbf6a" stroke-width="1.3" fill="none"/>
<path d="M1226.04 1337.93L1234.63 1346.53M1226.04 1346.53L1234.63 1337.93" stroke="#1fbf6a" stroke-width="1.3" fill="none"/>
<path d="M978.6 964.8 L1043.28 1061.22 L1019.39 1157.65 L1075.12 1254.08 L1133.82 1342.23" fill="none" stroke="#FFC000" stroke-width="3.5" stroke-linecap="round" stroke-linejoin="round" stroke-dasharray="12 14.6 0 14.6"/>
<circle cx="978.6" cy="964.8" r="4.2" fill="none" stroke="#FFC000" stroke-width="1.3"/>
<circle cx="1043.28" cy="1061.22" r="4.2" fill="none" stroke="#FFC000" stroke-width="1.3"/>
<circle cx="1019.39" cy="1157.65" r="4.2" fill="none" stroke="#FFC000" stroke-width="1.3"/>
<circle cx="1075.12" cy="1254.08" r="4.2" fill="none" stroke="#FFC000" stroke-width="1.3"/>
<circle cx="1133.82" cy="1342.23" r="4.2" fill="none" stroke="#FFC000" stroke-width="1.3"/>
<path d="M884.08 964.8 L931.84 1061.22 L972.63 1157.65 L1072.13 1254.08 L1091.04 1342.23" fill="none" stroke="#7030A0" stroke-width="3.6" stroke-linecap="round" stroke-linejoin="round" stroke-dasharray="23.4 18"/>
<path d="M879.08 964.8H889.08M884.08 959.8V969.8" stroke="#7030A0" stroke-width="1.6" fill="none"/>
<path d="M926.84 1061.22H936.84M931.84 1056.22V1066.22" stroke="#7030A0" stroke-width="1.6" fill="none"/>
<path d="M967.63 1157.65H977.63M972.63 1152.65V1162.65" stroke="#7030A0" stroke-width="1.6" fill="none"/>
<path d="M1067.13 1254.08H1077.13M1072.13 1249.08V1259.08" stroke="#7030A0" stroke-width="1.6" fill="none"/>
<path d="M1086.04 1342.23H1096.04M1091.04 1337.23V1347.23" stroke="#7030A0" stroke-width="1.6" fill="none"/>
<path d="M899 1350.4V1343.4M998.5 1350.4V1343.4M1098 1350.4V1343.4M1197.5 1350.4V1343.4M1297 1350.4V1343.4M799.6 1267.85H807.6M799.6 1185.2H807.6M799.6 1102.55H807.6M799.6 1019.9H807.6" stroke="#2e2e2e" stroke-width="1.8" fill="none"/>
<rect x="799.6" y="937.5" width="597.4" height="412.9000000000001" fill="none" stroke="#2e2e2e" stroke-width="2.5" stroke-linejoin="round"/>
<rect x="1214" y="953.6" width="169" height="182.4" fill="#fff" stroke="#555" stroke-width="1.8" stroke-linejoin="round"/>
<path d="M1230.3 969.5H1275.3" fill="none" stroke="#000000" stroke-width="3.2" stroke-linecap="round" stroke-linejoin="round"/>
<rect x="1248.5" y="965.2" width="8.6" height="8.6" fill="none" stroke="#000" stroke-width="2"/>
<text x="1282.7" y="977.7" class="lg">t=0.50s</text>
<path d="M1230.3 999.8H1275.3" fill="none" stroke="#0000FF" stroke-width="3.3" stroke-linecap="round" stroke-linejoin="round" stroke-dasharray="0 7.3"/>
<polygon points="1252.8,995.1 1257.5,999.8 1252.8,1004.5 1248.1,999.8" fill="none" stroke="#3b3bff" stroke-width="1.3"/>
<text x="1282.7" y="1008" class="lg">t=0.54s</text>
<path d="M1230.3 1030.1H1275.3" fill="none" stroke="#FF0000" stroke-width="3.7" stroke-linecap="round" stroke-linejoin="round" stroke-dasharray="7.4 7.2"/>
<polygon points="1252.8,1024.9 1257.4,1034.1 1248.2,1034.1" fill="none" stroke="#FF0000" stroke-width="1.3"/>
<text x="1282.7" y="1038.3" class="lg">t=0.58s</text>
<path d="M1230.3 1060.4H1275.3" fill="none" stroke="#00B050" stroke-width="4.0" stroke-linecap="round" stroke-linejoin="round" stroke-dasharray="9.6 15"/>
<path d="M1248.5 1056.1L1257.1 1064.7M1248.5 1064.7L1257.1 1056.1" stroke="#1fbf6a" stroke-width="1.3" fill="none"/>
<text x="1282.7" y="1068.6" class="lg">t=0.62s</text>
<path d="M1230.3 1090.7H1275.3" fill="none" stroke="#FFC000" stroke-width="3.5" stroke-linecap="round" stroke-linejoin="round" stroke-dasharray="11.3 15.3 0 15"/>
<circle cx="1252.8" cy="1090.7" r="4.2" fill="none" stroke="#FFC000" stroke-width="1.3"/>
<text x="1282.7" y="1098.9" class="lg">t=0.66s</text>
<path d="M1230.3 1121H1275.3" fill="none" stroke="#7030A0" stroke-width="3.6" stroke-linecap="round" stroke-linejoin="round" stroke-dasharray="26 15"/>
<path d="M1247.8 1121H1257.8M1252.8 1116V1126" stroke="#7030A0" stroke-width="1.6" fill="none"/>
<text x="1282.7" y="1129.2" class="lg">t=0.70s</text>
<rect x="1199.4" y="1150" width="194.8" height="51.4" fill="#fff" stroke="#666" stroke-width="1.8" stroke-linejoin="round"/>
<text x="1225.2" y="1183.9" class="hb"><tspan font-style="italic">H</tspan> = 300mm</text>
<text x="89" y="457.2" class="yt">0</text>
<text x="89" y="377.2" class="yt">30</text>
<text x="89" y="297.2" class="yt">60</text>
<text x="89" y="217.2" class="yt">90</text>
<text x="89" y="137.2" class="yt">120</text>
<text x="89" y="57.2" class="yt">150</text>
<text x="95.6" y="901.2" class="yt">0</text>
<text x="95.6" y="820.35" class="yt">30</text>
<text x="95.6" y="739.5" class="yt">60</text>
<text x="95.6" y="658.65" class="yt">90</text>
<text x="95.6" y="577.8" class="yt">120</text>
<text x="95.6" y="496.95" class="yt">150</text>
<text x="93.5" y="1357.4" class="yt">0</text>
<text x="93.5" y="1274.21" class="yt">30</text>
<text x="93.5" y="1191.02" class="yt">60</text>
<text x="93.5" y="1107.83" class="yt">90</text>
<text x="93.5" y="1024.64" class="yt">120</text>
<text x="93.5" y="941.45" class="yt">150</text>
<text x="116.9" y="1381.5" class="xt">-2</text>
<text x="216.2" y="1381.5" class="xt">0</text>
<text x="315.5" y="1381.5" class="xt">2</text>
<text x="414.8" y="1381.5" class="xt">4</text>
<text x="514.1" y="1381.5" class="xt">6</text>
<text x="613.4" y="1381.5" class="xt">8</text>
<text x="712.7" y="1381.5" class="xt">10</text>
<text x="799.5" y="1383.7" class="xt">-1</text>
<text x="899" y="1383.7" class="xt">0</text>
<text x="998.5" y="1383.7" class="xt">1</text>
<text x="1098" y="1383.7" class="xt">2</text>
<text x="1197.5" y="1383.7" class="xt">3</text>
<text x="1297" y="1383.7" class="xt">4</text>
<text x="1396.5" y="1383.7" class="xt">5</text>
<text transform="translate(45.2 249) rotate(-90)" class="zl" text-anchor="middle"><tspan font-style="italic">z</tspan>(mm)</text>
<text transform="translate(46.4 679.6) rotate(-90)" class="zl" text-anchor="middle"><tspan font-style="italic">z</tspan>(mm)</text>
<text transform="translate(47.9 1132.3) rotate(-90)" class="zl" text-anchor="middle"><tspan font-style="italic">z</tspan>(mm)</text>
<text x="13.8" y="48.85" class="tag">(a)</text>
<text x="13.0" y="498.1" class="tag">(b)</text>
<text x="15.6" y="947" class="tag">(c)</text>
<text x="360.1" y="1408.4" class="ax" style="font-style:italic;font-size:29.5px">P</text>
<text x="379.6" y="1414.8" class="ax" style="font-style:italic;font-size:21px">x</text>
<text x="394.0" y="1407.5" class="ax" letter-spacing="0.45">(kPa)</text>
<text x="1030.9" y="1408" class="ax" style="font-style:italic;font-size:29.5px">P</text>
<text x="1050" y="1415" class="ax" style="font-style:italic;font-size:21px">x</text>
<text x="1067.2" y="1407.5" class="ax" letter-spacing="0.45">(kPa)</text>
</svg></div>
</body></html>
